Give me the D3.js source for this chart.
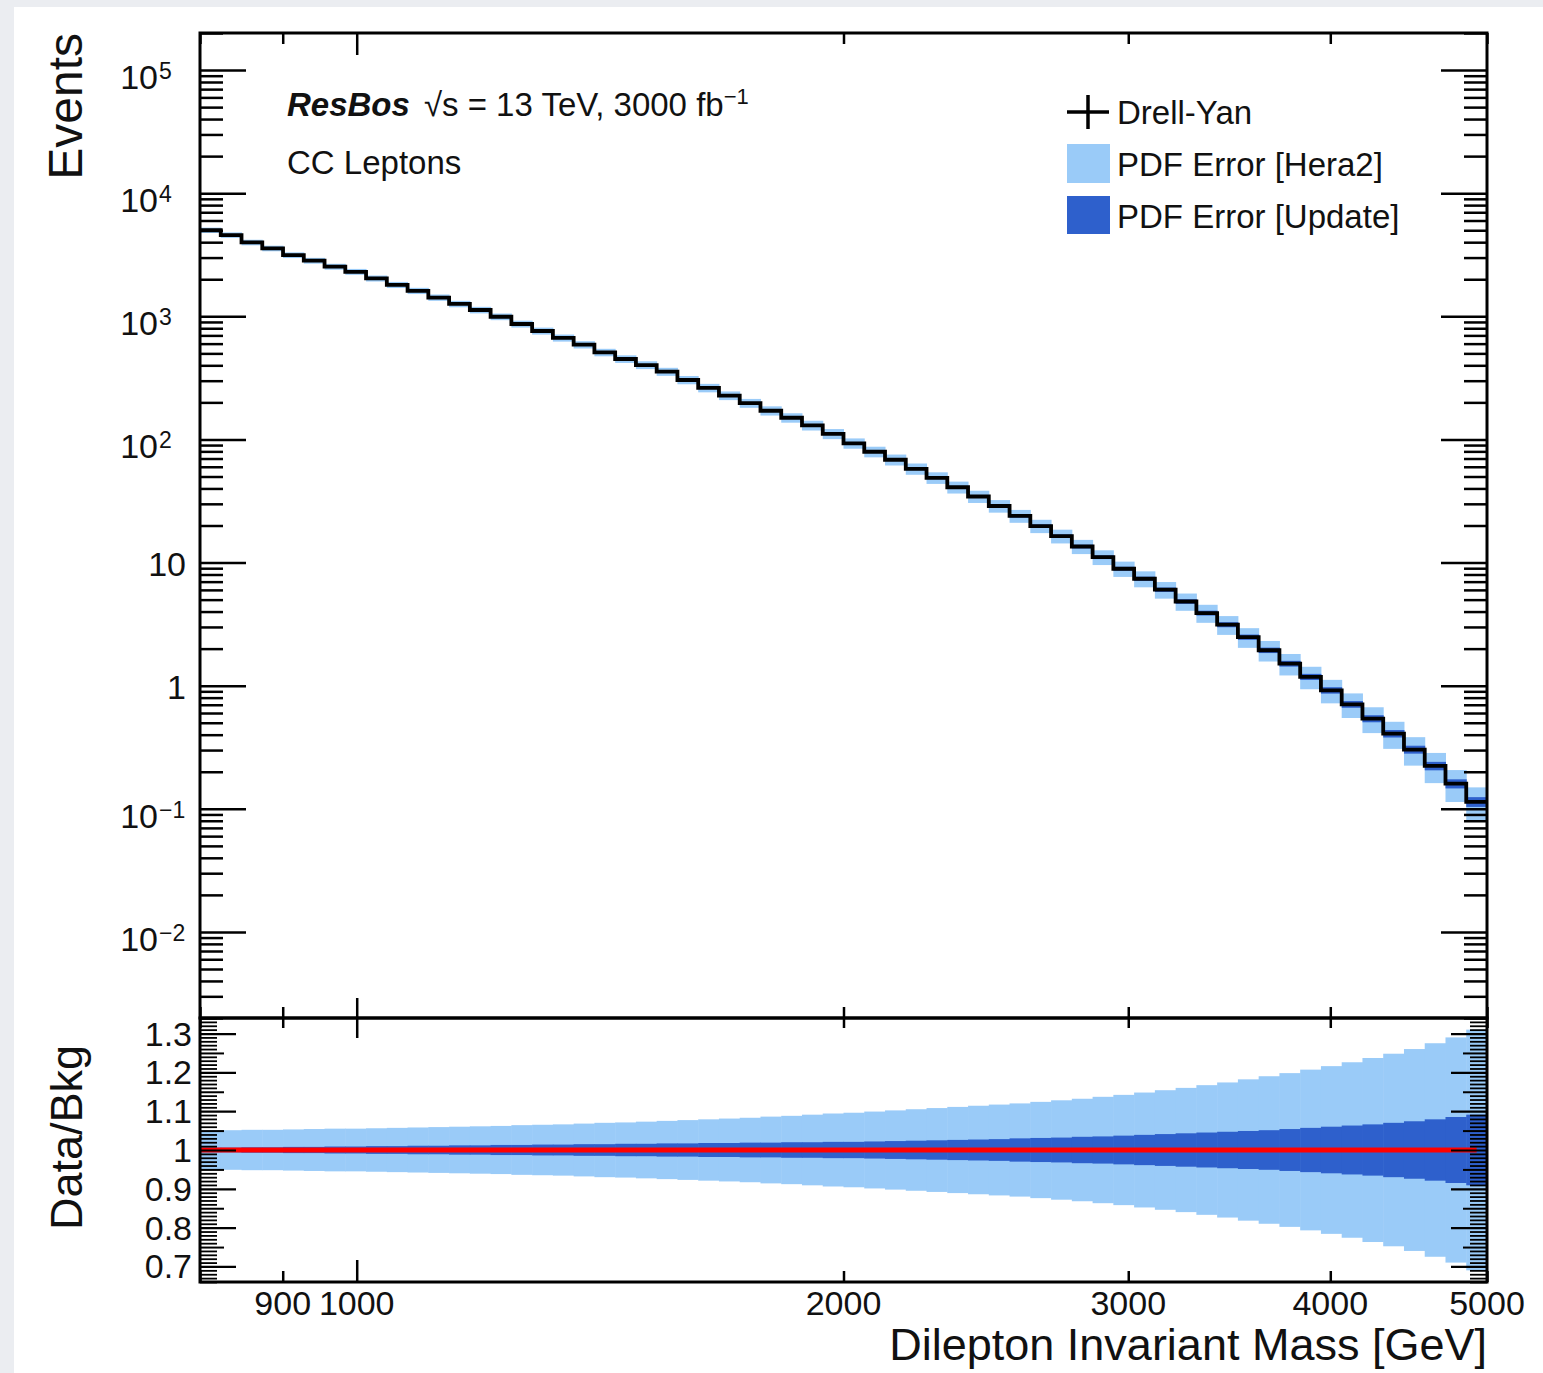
<!DOCTYPE html>
<html>
<head>
<meta charset="utf-8">
<script src="https://cdn.jsdelivr.net/npm/d3@7"></script>
<style>
  html, body { margin: 0; padding: 0; background: #ebedf1; }
  svg { display: block; font-family: "Liberation Sans", Arial, sans-serif; }
</style>
</head>
<body>
<svg id="plotArea" width="1543" height="1373"></svg>
<script>

/* ---- data ---- */

// mass range and number of log-spaced bins
const massRange = [800, 5000];
const nBins = 62;

// events per bin (Drell-Yan)
const events = [
  5000, 4570, 3980, 3560, 3140, 2830, 2530, 2300, 2030, 1800,
  1610, 1420, 1260, 1125, 992, 866, 760, 667, 588, 509,
  450, 402, 355, 304, 262, 227, 197, 171, 150, 130,
  111, 93.0, 79.4, 68.4, 57.7, 48.8, 40.9, 34.4, 28.8, 23.9,
  19.8, 16.4, 13.5, 11.06, 8.91, 7.39, 6.02, 4.83, 3.89, 3.13,
  2.48, 1.94, 1.51, 1.18, 0.917, 0.706, 0.540, 0.408, 0.303, 0.223,
  0.160, 0.114
];

// relative PDF error, Hera2
const errHera2 = [
  0.050, 0.051, 0.052, 0.052, 0.053, 0.054, 0.055, 0.055, 0.056, 0.057,
  0.058, 0.059, 0.060, 0.061, 0.062, 0.064, 0.065, 0.066, 0.068, 0.070,
  0.071, 0.073, 0.075, 0.077, 0.079, 0.081, 0.083, 0.086, 0.088, 0.091,
  0.094, 0.096, 0.099, 0.102, 0.105, 0.108, 0.111, 0.114, 0.117, 0.120,
  0.124, 0.128, 0.132, 0.137, 0.142, 0.148, 0.154, 0.160, 0.167, 0.174,
  0.182, 0.190, 0.198, 0.207, 0.216, 0.226, 0.237, 0.248, 0.260, 0.275,
  0.290, 0.310
];

// relative PDF error, Update
const errUpdate = [
  0.006, 0.006, 0.007, 0.007, 0.008, 0.008, 0.009, 0.009, 0.010, 0.010,
  0.011, 0.011, 0.012, 0.012, 0.013, 0.013, 0.014, 0.014, 0.015, 0.015,
  0.016, 0.016, 0.017, 0.017, 0.018, 0.018, 0.019, 0.019, 0.020, 0.020,
  0.021, 0.021, 0.022, 0.023, 0.024, 0.025, 0.026, 0.027, 0.028, 0.030,
  0.031, 0.032, 0.034, 0.035, 0.037, 0.039, 0.041, 0.043, 0.045, 0.047,
  0.049, 0.051, 0.054, 0.057, 0.060, 0.063, 0.066, 0.070, 0.074, 0.079,
  0.085, 0.091
];

// ticks and labels
const massTicks = [800, 900, 1000, 2000, 3000, 4000, 5000];
const massMajor = [1000];
const massLabels = [900, 1000, 2000, 3000, 4000, 5000];
const eventDecades = [-2, -1, 0, 1, 2, 3, 4, 5];
const ratioLabels = [0.7, 0.8, 0.9, 1, 1.1, 1.2, 1.3];
const legendLabels = ["Drell-Yan", "PDF Error [Hera2]", "PDF Error [Update]"];

/* ---- setup ---- */

const colHera2 = "#9acbf8";
const colUpdate = "#2e60cc";

let svg = d3.select("#plotArea");

// white page area
svg.append("rect")
  .attr("x", 14).attr("y", 7)
  .attr("width", 1543 - 14).attr("height", 1373 - 7)
  .attr("fill", "#fff");

let frame = {left: 200, right: 1487, top: 33, mid: 1018, bottom: 1282};

let x = d3.scaleLog().domain(massRange).range([frame.left, frame.right]);
let y = d3.scaleLog().domain([0.002, 2e5]).range([frame.mid, frame.top]);
let r = d3.scaleLinear().domain([0.66, 1.34]).range([frame.bottom, frame.mid]);

// log-spaced bin edges
let edges = d3.range(nBins + 1)
  .map(i => massRange[0] * Math.pow(massRange[1] / massRange[0], i / nBins));
let bins = events.map((v, i) => ({
  lo: edges[i], hi: edges[i + 1], v: v, h: errHera2[i], u: errUpdate[i]
}));

// clip paths
let defs = svg.append("defs");
defs.append("clipPath").attr("id", "clipTop").append("rect")
  .attr("x", frame.left).attr("y", frame.top)
  .attr("width", frame.right - frame.left).attr("height", frame.mid - frame.top);
defs.append("clipPath").attr("id", "clipBot").append("rect")
  .attr("x", frame.left).attr("y", frame.mid)
  .attr("width", frame.right - frame.left).attr("height", frame.bottom - frame.mid);

/* ---- top panel ---- */

let topPanel = svg.append("g").attr("clip-path", "url(#clipTop)");

// Hera2 band
topPanel.selectAll("rect.hera")
  .data(bins).enter().append("rect")
  .attr("class", "hera")
  .attr("x", d => x(d.lo))
  .attr("width", d => x(d.hi) - x(d.lo) + 0.5)
  .attr("y", d => y(d.v * (1 + d.h)))
  .attr("height", d => y(d.v * (1 - d.h)) - y(d.v * (1 + d.h)))
  .attr("fill", colHera2);

// Update band
topPanel.selectAll("rect.upd")
  .data(bins).enter().append("rect")
  .attr("class", "upd")
  .attr("x", d => x(d.lo))
  .attr("width", d => x(d.hi) - x(d.lo) + 0.5)
  .attr("y", d => y(d.v * (1 + d.u)))
  .attr("height", d => y(d.v * (1 - d.u)) - y(d.v * (1 + d.u)))
  .attr("fill", colUpdate);

// histogram steps
let stepPts = [];
bins.forEach(d => { stepPts.push([d.lo, d.v]); stepPts.push([d.hi, d.v]); });
topPanel.append("path")
  .datum(stepPts)
  .attr("d", d3.line().x(p => x(p[0])).y(p => y(p[1])))
  .attr("fill", "none")
  .attr("stroke", "#000")
  .attr("stroke-width", 3.8);

/* ---- ratio panel ---- */

let botPanel = svg.append("g").attr("clip-path", "url(#clipBot)");

botPanel.selectAll("rect.hera")
  .data(bins).enter().append("rect")
  .attr("class", "hera")
  .attr("x", d => x(d.lo))
  .attr("width", d => x(d.hi) - x(d.lo) + 0.5)
  .attr("y", d => r(1 + d.h))
  .attr("height", d => r(1 - d.h) - r(1 + d.h))
  .attr("fill", colHera2);

botPanel.selectAll("rect.upd")
  .data(bins).enter().append("rect")
  .attr("class", "upd")
  .attr("x", d => x(d.lo))
  .attr("width", d => x(d.hi) - x(d.lo) + 0.5)
  .attr("y", d => r(1 + d.u))
  .attr("height", d => r(1 - d.u) - r(1 + d.u))
  .attr("fill", colUpdate);

// nominal ratio line
let lastBin = bins[bins.length - 1];
botPanel.append("line")
  .attr("x1", x(massRange[0]))
  .attr("x2", x(Math.sqrt(lastBin.lo * lastBin.hi)))
  .attr("y1", r(1)).attr("y2", r(1))
  .attr("stroke", "#ff0000")
  .attr("stroke-width", 5);

/* ---- axes (ROOT style, ticks inside) ---- */

function tickAxis(axisFn, scale, values, size, tx, ty, width=2.5) {
  let g = svg.append("g")
    .attr("transform", `translate(${tx},${ty})`)
    .call(axisFn(scale).tickValues(values).tickSize(size).tickFormat(""));
  g.select(".domain").remove();
  g.selectAll("line").attr("stroke", "#000").attr("stroke-width", width);
  return g;
}

// events axis: decades long, 2..9 short
let yAll = y.ticks();
let yMajor = yAll.filter(v => Math.abs(Math.log10(v) - Math.round(Math.log10(v))) < 1e-6);
let yMinor = yAll.filter(v => yMajor.indexOf(v) === -1);
tickAxis(d3.axisRight, y, yMajor, 46, frame.left, 0);
tickAxis(d3.axisRight, y, yMinor, 23, frame.left, 0);
tickAxis(d3.axisLeft, y, yMajor, 46, frame.right, 0);
tickAxis(d3.axisLeft, y, yMinor, 23, frame.right, 0);

// mass axis on all horizontal frame edges
let massMinor = massTicks.filter(v => massMajor.indexOf(v) === -1);
tickAxis(d3.axisBottom, x, massMajor, 22, 0, frame.top);
tickAxis(d3.axisBottom, x, massMinor, 11, 0, frame.top);
tickAxis(d3.axisTop, x, massMajor, 20, 0, frame.mid);
tickAxis(d3.axisTop, x, massMinor, 11, 0, frame.mid);
tickAxis(d3.axisBottom, x, massMajor, 20, 0, frame.mid);
tickAxis(d3.axisBottom, x, massMinor, 10, 0, frame.mid);
tickAxis(d3.axisTop, x, massMajor, 22, 0, frame.bottom);
tickAxis(d3.axisTop, x, massMinor, 11, 0, frame.bottom);

// ratio axis: 0.1 long, 0.05 medium, 0.01 short
let rAll = d3.range(66, 135).map(k => k / 100);
let rMajor = rAll.filter(v => Math.round(v * 100) % 10 === 0);
let rMid = rAll.filter(v => Math.round(v * 100) % 10 === 5);
let rMinor = rAll.filter(v => Math.round(v * 100) % 5 !== 0);
[[d3.axisRight, frame.left], [d3.axisLeft, frame.right]].forEach(a => {
  tickAxis(a[0], r, rMajor, 36, a[1], 0, 2.2);
  tickAxis(a[0], r, rMid, 24, a[1], 0, 2);
  tickAxis(a[0], r, rMinor, 17, a[1], 0, 1.8);
});

// frames
[[frame.top, frame.mid], [frame.mid, frame.bottom]].forEach(p => {
  svg.append("rect")
    .attr("x", frame.left).attr("y", p[0])
    .attr("width", frame.right - frame.left).attr("height", p[1] - p[0])
    .attr("fill", "none").attr("stroke", "#000").attr("stroke-width", 3);
});

/* ---- labels ---- */

let labels = svg.append("g").attr("fill", "#111");

// events labels (10^n)
eventDecades.forEach(e => {
  let yy = y(Math.pow(10, e));
  if (e === 0 || e === 1) {
    labels.append("text")
      .attr("x", 186).attr("y", yy + 13)
      .attr("text-anchor", "end")
      .attr("font-size", 34)
      .text(e === 0 ? "1" : "10");
  } else {
    labels.append("text")
      .attr("x", 158).attr("y", yy + 19)
      .attr("text-anchor", "end")
      .attr("font-size", 34)
      .text("10");
    labels.append("text")
      .attr("x", 159).attr("y", yy + 9)
      .attr("font-size", 23)
      .text(e < 0 ? "\u2212" + (-e) : String(e));
  }
});

// ratio labels
ratioLabels.forEach(v => {
  labels.append("text")
    .attr("x", 192).attr("y", r(v) + 12)
    .attr("text-anchor", "end")
    .attr("font-size", 34)
    .text(String(v));
});

// mass labels
massLabels.forEach(v => {
  labels.append("text")
    .attr("x", x(v)).attr("y", 1315)
    .attr("text-anchor", "middle")
    .attr("font-size", 34)
    .text(String(v));
});

// axis titles
labels.append("text")
  .attr("transform", `translate(82,${frame.top}) rotate(-90)`)
  .attr("text-anchor", "end")
  .attr("font-size", 48)
  .text("Events");
labels.append("text")
  .attr("transform", "translate(82,1045) rotate(-90)")
  .attr("text-anchor", "end")
  .attr("font-size", 45)
  .text("Data/Bkg");
labels.append("text")
  .attr("x", frame.right).attr("y", 1360)
  .attr("text-anchor", "end")
  .attr("font-size", 45)
  .text("Dilepton Invariant Mass [GeV]");

// annotation
let ann = labels.append("text").attr("x", 287).attr("y", 116).attr("font-size", 33);
ann.append("tspan").attr("font-weight", "bold").attr("font-style", "italic").text("ResBos");
ann.append("tspan").attr("dx", 14).text("\u221As = 13 TeV, 3000 fb");
ann.append("tspan").attr("dy", -12).attr("font-size", 22).text("\u22121");
labels.append("text")
  .attr("x", 287).attr("y", 174)
  .attr("font-size", 33)
  .text("CC Leptons");

/* ---- legend ---- */

let leg = svg.append("g");
leg.append("line")
  .attr("x1", 1067).attr("x2", 1109).attr("y1", 112).attr("y2", 112)
  .attr("stroke", "#000").attr("stroke-width", 3.5);
leg.append("line")
  .attr("x1", 1088).attr("x2", 1088).attr("y1", 95).attr("y2", 129)
  .attr("stroke", "#000").attr("stroke-width", 3.5);
leg.append("rect")
  .attr("x", 1067).attr("y", 144).attr("width", 43).attr("height", 39)
  .attr("fill", colHera2);
leg.append("rect")
  .attr("x", 1067).attr("y", 196).attr("width", 43).attr("height", 38)
  .attr("fill", colUpdate);
legendLabels.forEach((t, i) => {
  leg.append("text")
    .attr("x", 1117).attr("y", 124 + i * 52)
    .attr("font-size", 33)
    .attr("fill", "#111")
    .text(t);
});

</script>
</body>
</html>
